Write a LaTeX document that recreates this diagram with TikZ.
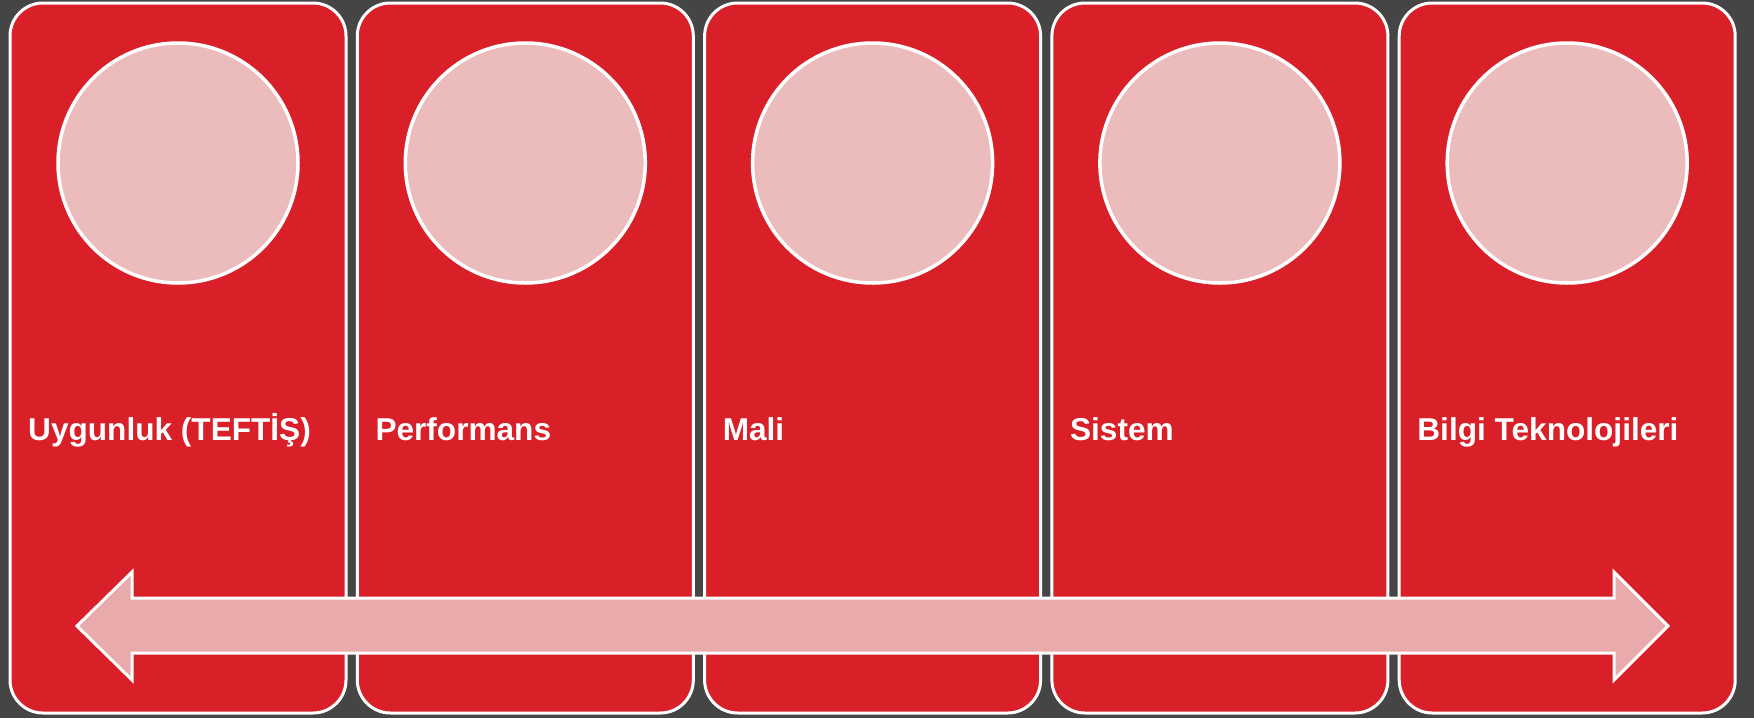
\documentclass[tikz,border=0pt]{standalone}
\usepackage{fontspec}
\setmainfont{Liberation Sans}
\definecolor{bg}{HTML}{454545}
\definecolor{panelred}{HTML}{D91F28}
\definecolor{circpink}{HTML}{ECBCBC}
\definecolor{arrowpink}{HTML}{E8AAAA}
\begin{document}
\begin{tikzpicture}[x=1pt,y=-1pt,
  panel/.style={draw=white, line width=3pt, fill=panelred, rounded corners=33pt},
  disc/.style={circle, draw=white, line width=3.5pt, fill=circpink, minimum size=240pt, inner sep=0pt},
  lbl/.style={anchor=base west, text=white, font=\fontsize{31.6pt}{36pt}\selectfont\bfseries, inner sep=0pt},
  dblarrow/.style={draw=white, line width=3pt, fill=arrowpink, line join=miter}]
\fill[bg] (0,0) rectangle (1754,718);
\useasboundingbox (0,0) rectangle (1754,718);
\foreach \i/\t in {0/{Uygunluk (TEFTİŞ)},1/{Performans},2/{Mali},3/{Sistem},4/{Bilgi Teknolojileri}}{
  \pgfmathsetmacro{\xl}{10+\i*347.3}
  \pgfmathsetmacro{\xr}{346+\i*347.3}
  \pgfmathsetmacro{\xc}{178+\i*347.3}
  \pgfmathsetmacro{\xt}{28+\i*347.3}
  \draw[panel] (\xl,3) rectangle (\xr,713);
  \node[disc] (c\i) at (\xc,163) {};
  \node[lbl] (t\i) at (\xt,440) {\t};
}
\coordinate (L) at (77,626);
\coordinate (R) at (1668,626);
\draw[dblarrow] (L) -- (132,572) -- (132,598) -- (1614,598) -- (1614,572) -- (R)
  -- (1614,680) -- (1614,653) -- (132,653) -- (132,680) -- cycle;
\end{tikzpicture}
\end{document}
